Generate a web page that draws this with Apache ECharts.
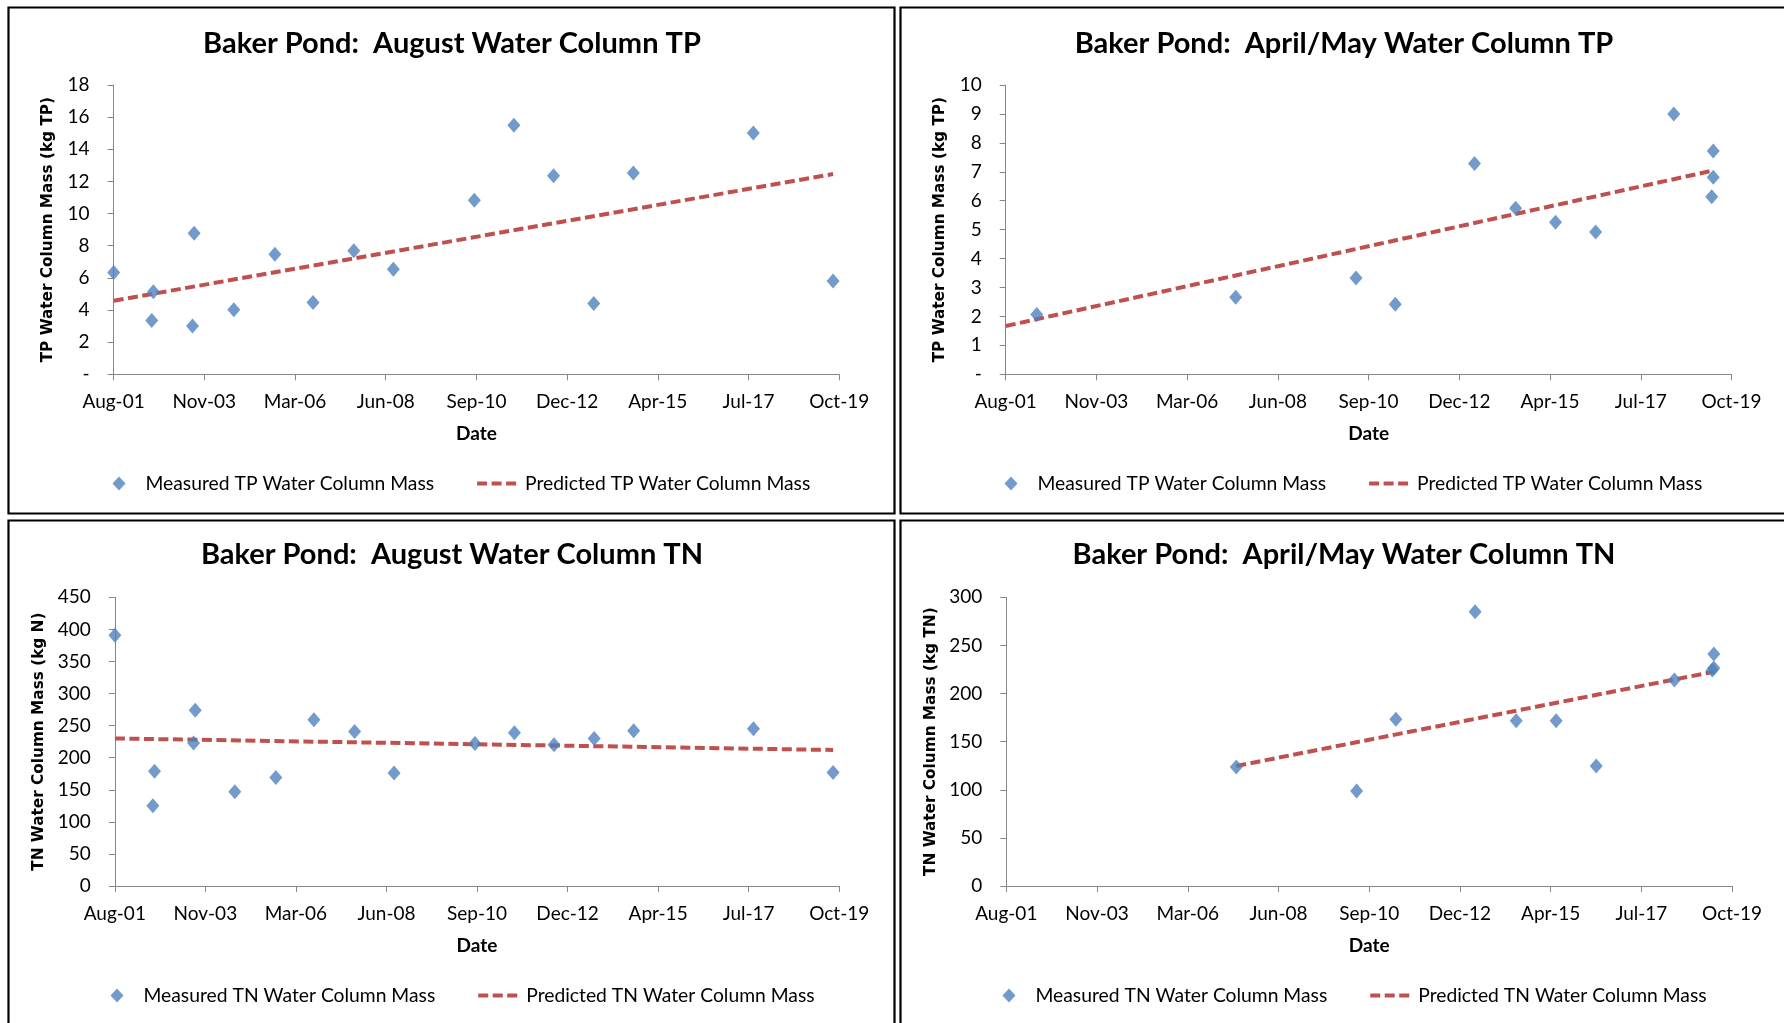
<!DOCTYPE html>
<html>
<head>
<meta charset="utf-8">
<script src="https://cdn.jsdelivr.net/npm/echarts@6/dist/echarts.min.js"></script>
<style>
  html, body { margin: 0; padding: 0; background: #fff; }
  body { width: 1784px; height: 1023px; position: relative; overflow: hidden; }
  .panel { position: absolute; width: 890px; height: 512px; }
</style>
</head>
<body>
<div id="p1" class="panel" style="left:7px;top:6px"></div>
<div id="p2" class="panel" style="left:899px;top:6px"></div>
<div id="p3" class="panel" style="left:7px;top:519px"></div>
<div id="p4" class="panel" style="left:899px;top:519px"></div>
<script>
// ---------- data ----------
const augDates = ['2001-08-16','2002-07-30','2002-08-14','2003-08-07','2003-08-22','2004-08-19','2005-08-30','2006-08-14','2007-08-22','2008-08-18','2010-08-29','2011-08-26','2012-08-23','2013-08-26','2014-08-23','2017-08-25','2019-08-25'];
const augTP = [6.33, 3.34, 5.14, 3.0, 8.77, 4.02, 7.47, 4.46, 7.69, 6.53, 10.83, 15.49, 12.36, 4.40, 12.53, 15.01, 5.81];
const augTN = [391, 125, 179, 223, 274, 147, 169, 259, 241, 176, 222, 239, 220, 230, 242, 245, 177];
const augTPPredDates = ['2001-08-16', '2019-08-25'];
const augTPPred = [4.58, 12.46];
const augTNPredDates = ['2001-08-16', '2019-08-25'];
const augTNPred = [230, 212];

const springTPDates = ['2002-05-26','2007-05-20','2010-05-25','2011-05-19','2013-05-13','2014-05-24','2015-05-24','2016-05-25','2018-05-10','2019-04-22','2019-05-06','2019-05-06'];
const springTP = [2.07, 2.66, 3.33, 2.42, 7.29, 5.74, 5.26, 4.92, 9.0, 6.14, 7.72, 6.81];
const springTPPredDates = ['2001-08-16', '2019-04-30'];
const springTPPred = [1.67, 7.04];

const springTNDates = ['2007-05-20','2010-05-25','2011-05-19','2013-05-13','2014-05-24','2015-05-24','2016-05-25','2018-05-10','2019-04-22','2019-05-06','2019-05-06'];
const springTN = [123.7, 98.7, 173.2, 285.1, 171.8, 171.8, 124.7, 214.1, 224.5, 241.1, 226.5];
const springTNPredDates = ['2007-05-20', '2019-05-06'];
const springTNPred = [124.7, 222.7];

const xTickLabels = ['Aug-01','Nov-03','Mar-06','Jun-08','Sep-10','Dec-12','Apr-15','Jul-17','Oct-19'];

// ---------- helpers ----------
const BASE = Date.UTC(2001, 7, 15);
const DAY = 86400000;
const AXIS_INTERVAL = 830;
const AXIS_MAX = AXIS_INTERVAL * 8;
function dayOff(s) { return (Date.parse(s + 'T00:00:00Z') - BASE) / DAY; }
function pairs(dates, vals) { return dates.map((d, i) => [dayOff(d), vals[i]]); }
function fmtDate(v) {
  const idx = Math.round(v / AXIS_INTERVAL);
  return xTickLabels[idx] !== undefined ? xTickLabels[idx] : '';
}

const LABEL_FONT = 'Lato';
const BLUE = '#4F81BD';
const RED = '#C0504D';
const AXIS_GREY = '#868686';
const DIAMOND = 'path://M0,-7L6.5,0L0,7L-6.5,0Z';

function makeOption(cfg) {
  return {
    animation: false,
    backgroundColor: '#fff',
    graphic: [{
      type: 'rect', silent: true, z: -10,
      shape: { x: 1.5, y: 1.5, width: 886, height: 506 },
      style: { fill: '#fff', stroke: '#000', lineWidth: 2.2 }
    }],
    title: {
      text: cfg.title, left: 'center', top: cfg.titleTop,
      textStyle: { fontFamily: LABEL_FONT, fontWeight: 'bold', fontSize: 29, color: '#000' }
    },
    grid: { left: cfg.grid[0], top: cfg.grid[1], width: cfg.grid[2], height: cfg.grid[3] },
    xAxis: {
      type: 'value', min: 0, max: AXIS_MAX, interval: AXIS_INTERVAL,
      axisLine: { show: true, lineStyle: { color: AXIS_GREY, width: 1 } },
      axisTick: { show: true, length: 6, lineStyle: { color: AXIS_GREY } },
      splitLine: { show: false },
      axisLabel: { formatter: fmtDate, margin: 18, fontFamily: LABEL_FONT, fontSize: 19, color: '#000', showMinLabel: true, showMaxLabel: true },
      name: 'Date', nameLocation: 'middle', nameGap: 50,
      nameTextStyle: { fontFamily: LABEL_FONT, fontWeight: 'bold', fontSize: 19, color: '#000' }
    },
    yAxis: {
      type: 'value', min: 0, max: cfg.ymax, interval: cfg.yint,
      axisLine: { show: true, lineStyle: { color: AXIS_GREY, width: 1 } },
      axisTick: { show: true, length: 6, lineStyle: { color: AXIS_GREY } },
      splitLine: { show: false },
      axisLabel: { formatter: v => (v === 0 ? cfg.zero : String(v)), margin: 24, fontFamily: LABEL_FONT, fontSize: 19, color: '#000' },
      name: cfg.yname, nameLocation: 'middle', nameGap: 58,
      nameTextStyle: { fontFamily: 'DejaVu Sans', fontWeight: 'bold', fontSize: 15.3, color: '#000' }
    },
    legend: {
      left: cfg.legendLeft, top: cfg.legendTop, itemWidth: 43, itemHeight: 14, itemGap: 41,
      symbolKeepAspect: true,
      data: [
        { name: cfg.mName, icon: DIAMOND },
        { name: cfg.pName, itemStyle: { opacity: 0, color: 'rgba(0,0,0,0)', borderWidth: 0 },
          lineStyle: { width: 4, color: RED, type: [10, 4.5] } }
      ],
      textStyle: { fontFamily: LABEL_FONT, fontSize: 19.3, color: '#000' }
    },
    series: [
      {
        type: 'scatter', name: cfg.mName, symbol: 'diamond', symbolSize: [13, 15],
        itemStyle: { color: BLUE }, data: cfg.measured, z: 3
      },
      {
        type: 'line', name: cfg.pName, symbol: 'none', showSymbol: false,
        lineStyle: { color: RED, width: 4, type: [10, 4.5], cap: 'butt' },
        itemStyle: { color: RED }, data: cfg.pred, z: 2
      }
    ]
  };
}

const panels = [
  { id: 'p1', title: 'Baker Pond:  August Water Column TP', grid: [106.6, 79, 725.6, 289.3], ymax: 18, yint: 2, zero: '-',
    titleTop: 18, legendTop: 463, legendLeft: 100.5,
    yname: 'TP Water Column Mass (kg TP)', mName: 'Measured TP Water Column Mass', pName: 'Predicted TP Water Column Mass',
    measured: pairs(augDates, augTP), pred: pairs(augTPPredDates, augTPPred) },
  { id: 'p2', title: 'Baker Pond:  April/May Water Column TP', grid: [106.7, 79, 725.8, 289.3], ymax: 10, yint: 1, zero: '-',
    titleTop: 18, legendTop: 463, legendLeft: 100.5,
    yname: 'TP Water Column Mass (kg TP)', mName: 'Measured TP Water Column Mass', pName: 'Predicted TP Water Column Mass',
    measured: pairs(springTPDates, springTP), pred: pairs(springTPPredDates, springTPPred) },
  { id: 'p3', title: 'Baker Pond:  August Water Column TN', grid: [107.8, 78.3, 724.4, 288.7], ymax: 450, yint: 50, zero: '0',
    titleTop: 16, legendTop: 462, legendLeft: 98.5,
    yname: 'TN Water Column Mass (kg N)', mName: 'Measured TN Water Column Mass', pName: 'Predicted TN Water Column Mass',
    measured: pairs(augDates, augTN), pred: pairs(augTNPredDates, augTNPred) },
  { id: 'p4', title: 'Baker Pond:  April/May Water Column TN', grid: [107.3, 78.3, 725.8, 288.7], ymax: 300, yint: 50, zero: '0',
    titleTop: 16, legendTop: 462, legendLeft: 98.5,
    yname: 'TN Water Column Mass (kg TN)', mName: 'Measured TN Water Column Mass', pName: 'Predicted TN Water Column Mass',
    measured: pairs(springTNDates, springTN), pred: pairs(springTNPredDates, springTNPred) }
];

panels.forEach(p => {
  const chart = echarts.init(document.getElementById(p.id), null, { renderer: 'canvas' });
  chart.setOption(makeOption(p));
});
</script>
</body>
</html>
